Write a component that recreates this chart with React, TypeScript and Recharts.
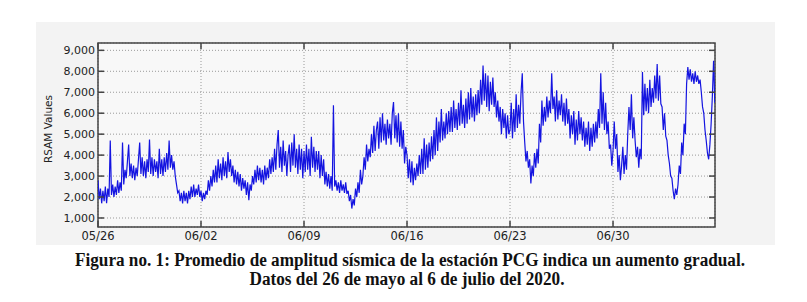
import { CartesianGrid, Line, LineChart, ReferenceArea, XAxis, YAxis } from "recharts";

// RSAM values, 12 samples per day (every 2 h), one array per week
const week1 = [
  2800, 1900, 2400, 1700, 2300, 1800, 2500, 1700, 2400, 2000, 4700, 2100,
  2600, 2000, 2500, 2100, 2800, 2200, 2700, 2300, 4600, 2600, 3300, 2900,
  3700, 4500, 3000, 3600, 2900, 3500, 2800, 3400, 3000, 3800, 4600, 3100,
  3900, 3000, 3700, 2900, 3800, 3200, 4750, 3100, 3900, 3000, 3800, 3200,
  3700, 2900, 4300, 3100, 3800, 3000, 3900, 3200, 4100, 3300, 4700, 3400,
  4000, 3300, 3700, 3000, 2600, 2200, 2300, 1800, 2200, 1700, 2300, 1800,
  2200, 1700, 2300, 1900, 2500, 2000, 2600, 2000, 2400, 2100, 2600, 2000,
];
const week2 = [
  2300, 1800, 2200, 1900, 2300, 2100, 2800, 2300, 3000, 2500, 3300, 2700,
  3500, 2700, 3800, 2900, 3600, 2800, 3900, 3000, 3700, 2900, 4150, 3200,
  3800, 3000, 3500, 2700, 3300, 2600, 3200, 2500, 3100, 2300, 2900, 2400,
  2800, 2100, 2700, 1850, 2600, 2300, 3000, 2600, 3300, 2700, 3500, 2800,
  3400, 2700, 3300, 2600, 3500, 2800, 3400, 2900, 3800, 3100, 3900, 3200,
  4300, 3300, 4500, 5200, 3400, 4400, 3200, 4700, 3500, 4200, 3000, 4000,
  4500, 3200, 4600, 3500, 5000, 3400, 4300, 3100, 4500, 3300, 4300, 2900,
];
const week3 = [
  4200, 3200, 4500, 3300, 4300, 3000, 4870, 3400, 4400, 3200, 4200, 3300,
  4200, 2900, 4000, 3000, 3800, 2600, 3200, 2500, 3100, 2400, 3000, 2300,
  6380, 2500, 2800, 2300, 2700, 2200, 2800, 2300, 2600, 2200, 2700, 2150,
  2300, 1800, 2100, 1450, 1900, 1600, 2400, 2000, 2700, 2200, 3300, 2600,
  3000, 3900, 3300, 4500, 3700, 4300, 3900, 5000, 4100, 5400, 4200, 5200,
  5600, 4300, 5800, 4600, 6000, 4700, 5500, 4500, 5700, 4800, 5500, 4500,
  6000, 6530, 4800, 5900, 4600, 6000, 4400, 5600, 4300, 5200, 3600, 4400,
];
const week4 = [
  4000, 2900, 3800, 2700, 3700, 2560, 3400, 2800, 3600, 3000, 4000, 3100,
  4300, 3100, 4800, 3300, 4500, 3400, 4600, 3700, 4900, 3800, 5200, 4000,
  5800, 4200, 5600, 4600, 6200, 4700, 5600, 4800, 6000, 5000, 6100, 5100,
  6300, 5100, 6600, 5300, 6200, 5200, 6500, 5400, 7100, 5500, 6400, 5300,
  6700, 5500, 7000, 5700, 7200, 5800, 6800, 5600, 6900, 5900, 7100, 6000,
  7600, 6400, 8280, 6600, 7900, 6300, 7800, 6100, 7500, 6400, 7700, 6300,
  7000, 5800, 6600, 5600, 6300, 5000, 6200, 5300, 6000, 4800, 5900, 5000,
];
const week5 = [
  5200, 6500, 4800, 6200, 5100, 6900, 5300, 6400, 5500, 7000, 7900, 5600,
  4600, 3700, 4200, 3400, 3800, 2650, 3500, 3000, 4100, 3400, 4300, 3600,
  5500, 4600, 6600, 5400, 6300, 5600, 6800, 5800, 6600, 6000, 7900, 6200,
  6800, 5600, 7100, 5700, 6600, 5900, 6900, 5600, 6500, 5400, 6700, 5500,
  6200, 4800, 5900, 5000, 6100, 4500, 5700, 4700, 6100, 5000, 5800, 4700,
  5600, 4400, 5300, 4500, 5600, 4200, 5300, 4400, 5500, 4600, 5600, 4800,
  6200, 5300, 7900, 5500, 7000, 5200, 6500, 5000, 5600, 4300, 4500, 3500,
];
const week6 = [
  4200, 5600, 4300, 5000, 3200, 4000, 2800, 3500, 4400, 3100, 4000, 3300,
  5000, 6300, 5200, 6900, 4800, 5800, 4700, 3900, 4400, 3400, 4300, 3800,
  7970, 5900, 7400, 6100, 7200, 6000, 7600, 6300, 7200, 6500, 7800, 6700,
  8350, 6600, 7800, 6450, 6300, 5200, 6000, 4900, 4700, 4000, 3600, 3000,
  2900, 2300, 1900, 2400, 2100, 2600, 3500, 3100, 4600, 4000, 5500, 5000,
  7400, 8200, 7600, 8100, 7500, 7900, 7400, 8000, 7500, 7800, 7400, 7600,
  7000, 6300, 6000, 5200, 4700, 4100, 3800, 4500, 5500, 6800, 8500, 6500,
];

const samplesPerDay = 12;
const dateTicks = [0, 7, 14, 21, 28, 35];
const dateLabels = ["05/26", "06/02", "06/09", "06/16", "06/23", "06/30"];
const valueTicks = [1000, 2000, 3000, 4000, 5000, 6000, 7000, 8000, 9000];

const rsam = [...week1, ...week2, ...week3, ...week4, ...week5, ...week6];
const data = rsam.map((v, i) => ({ t: i / samplesPerDay, v }));

const xDomain: [number, number] = [0, 41.93];
const yDomain: [number, number] = [570, 9350];
const axisColor = "#444";
const labelFont = "DejaVu Sans";

// y labels plus the short inward ticks on both frame sides
const LeftTick = (props: any) => {
  const { x, y, payload } = props;
  const right = x + 3 + 617;
  return (
    <g>
      <text x={x} y={y} dy={4} textAnchor="end" fontSize={11} fill="#222" fontFamily={labelFont}>
        {payload.value.toLocaleString("en-US")}
      </text>
      <line x1={x + 3} x2={x + 9} y1={y} y2={y} stroke={axisColor} strokeWidth={1.5} />
      <line x1={right - 6} x2={right} y1={y} y2={y} stroke={axisColor} strokeWidth={1.5} />
    </g>
  );
};

// date labels plus inward ticks at bottom and top of the frame
const BottomTick = (props: any) => {
  const { x, y, payload } = props;
  const idx = dateTicks.indexOf(payload.value);
  const top = y - 184;
  return (
    <g>
      <line x1={x} x2={x} y1={y - 6} y2={y} stroke={axisColor} strokeWidth={1.5} />
      <line x1={x} x2={x} y1={top} y2={top + 6} stroke={axisColor} strokeWidth={1.5} />
      <text x={x} y={y} dy={13} textAnchor="middle" fontSize={11.5} fill="#222" fontFamily={labelFont}>
        {dateLabels[idx]}
      </text>
    </g>
  );
};

export default function App() {
  return (
    <div style={{ position: "absolute", left: 0, top: 0, width: 807, height: 302, background: "#fff" }}>
      <div style={{ position: "absolute", left: 36, top: 22, width: 739, height: 223, background: "#f3f3f3" }}>
        <LineChart width={739} height={223} data={data} margin={{ top: 21, right: 60, bottom: 0, left: 0 }}>
          <CartesianGrid stroke="#9a9a9a" strokeDasharray="1 2" fill="#f8f8f8" />
          <XAxis
            dataKey="t"
            type="number"
            domain={xDomain}
            ticks={dateTicks}
            interval={0}
            height={18}
            tickSize={0}
            tickMargin={0}
            tickLine={false}
            axisLine={false}
            tick={BottomTick}
            allowDataOverflow
          />
          <YAxis
            type="number"
            domain={yDomain}
            ticks={valueTicks}
            interval={0}
            width={62}
            tickSize={0}
            tickMargin={3}
            tickLine={false}
            axisLine={false}
            tick={LeftTick}
            allowDataOverflow
            label={{
              value: "RSAM Values",
              angle: -90,
              position: "insideLeft",
              offset: 12,
              dy: 28,
              style: { fontSize: 10.5, fill: "#222", fontFamily: labelFont },
            }}
          />
          <Line
            type="linear"
            dataKey="v"
            stroke="#1414e0"
            strokeWidth={1.2}
            dot={false}
            isAnimationActive={false}
          />
          <ReferenceArea
            x1={xDomain[0]}
            x2={xDomain[1]}
            y1={yDomain[0]}
            y2={yDomain[1]}
            fill="none"
            stroke={axisColor}
            strokeWidth={1.5}
            ifOverflow="visible"
          />
        </LineChart>
      </div>
      <svg width={807} height={302} style={{ position: "absolute", left: 0, top: 0, pointerEvents: "none" }}>
        <text
          x={410}
          y={266}
          textAnchor="middle"
          fontFamily="Liberation Serif"
          fontWeight="bold"
          fontSize={18}
          fill="#111"
          textLength={670}
          lengthAdjust="spacingAndGlyphs"
        >
          Figura no. 1:  Promedio de amplitud sísmica de la estación PCG indica un aumento gradual.
        </text>
        <text
          x={407}
          y={285}
          textAnchor="middle"
          fontFamily="Liberation Serif"
          fontWeight="bold"
          fontSize={18}
          fill="#111"
          textLength={315}
          lengthAdjust="spacingAndGlyphs"
        >
          Datos del 26 de mayo al 6 de julio del 2020.
        </text>
      </svg>
    </div>
  );
}
